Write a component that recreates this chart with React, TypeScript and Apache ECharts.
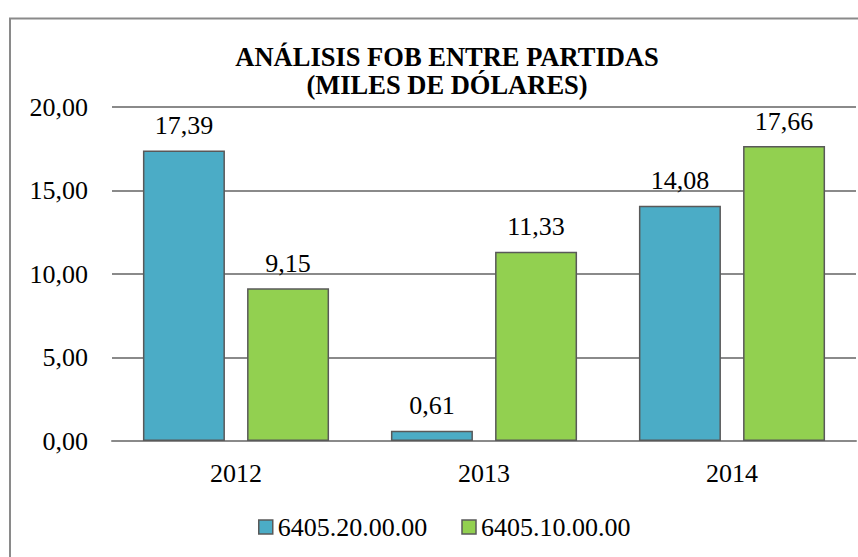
import React, { useEffect, useRef } from "react";
import * as echarts from "echarts";

const categories = ["2012", "2013", "2014"];
const seriesNames = ["6405.20.00.00", "6405.10.00.00"];
const values2010 = [17.39, 0.61, 14.08];
const values1010 = [9.15, 11.33, 17.66];
const yTicks = [0, 5, 10, 15, 20];

const FONT = "Liberation Serif, Times New Roman, serif";
const fmt = (v: number) => v.toFixed(2).replace(".", ",");

export default function App() {
  const ref = useRef<HTMLDivElement>(null);
  useEffect(() => {
    if (!ref.current) return;
    const chart = echarts.init(ref.current, null, { renderer: "svg" });
    chart.setOption({
      animation: false,
      backgroundColor: "#ffffff",
      textStyle: { fontFamily: FONT },
      graphic: [
        {
          type: "rect",
          shape: { x: 10, y: 18.5, width: 900, height: 600 },
          style: { fill: "none", stroke: "#8a8a8a", lineWidth: 2 },
          silent: true,
        },
      ],
      title: {
        text: "ANÁLISIS FOB ENTRE PARTIDAS\n(MILES DE DÓLARES)",
        left: 442,
        top: 38,
        padding: 5,
        textAlign: "center",
        textStyle: {
          fontFamily: FONT,
          fontWeight: "bold",
          fontSize: 26.5,
          lineHeight: 28,
          color: "#000",
        },
      },
      legend: {
        top: 509,
        left: 253,
        itemWidth: 14,
        itemHeight: 14,
        itemGap: 34,
        icon: "rect",
        data: seriesNames.map((n) => ({ name: n })),
        textStyle: { fontFamily: FONT, fontSize: 26, color: "#000" },
        itemStyle: { borderColor: "#595959", borderWidth: 1.5 },
      },
      grid: { left: 112, right: 2, top: 107, bottom: 116 },
      xAxis: {
        type: "category",
        data: categories,
        axisLine: { show: true, lineStyle: { color: "#8a8a8a", width: 2 } },
        axisTick: { show: false },
        axisLabel: { fontFamily: FONT, fontSize: 26, color: "#000", margin: 19 },
      },
      yAxis: {
        type: "value",
        min: yTicks[0],
        max: yTicks[yTicks.length - 1],
        interval: 5,
        axisLine: { show: false },
        axisTick: { show: false },
        splitLine: { lineStyle: { color: "#8a8a8a", width: 2 } },
        axisLabel: {
          fontFamily: FONT,
          fontSize: 26,
          color: "#000",
          margin: 24,
          formatter: (v: number) => fmt(v),
        },
      },
      series: [
        {
          name: seriesNames[0],
          type: "bar",
          data: values2010,
          barWidth: 82,
          barGap: "27%",
          itemStyle: { color: "#4BACC6", borderColor: "#595959", borderWidth: 1.5 },
          label: {
            show: true,
            position: "top",
            distance: 12,
            fontFamily: FONT,
            fontSize: 26,
            color: "#000",
            formatter: (p: any) => fmt(p.value),
          },
        },
        {
          name: seriesNames[1],
          type: "bar",
          data: values1010,
          barWidth: 82,
          barGap: "27%",
          itemStyle: { color: "#92D050", borderColor: "#595959", borderWidth: 1.5 },
          label: {
            show: true,
            position: "top",
            distance: 12,
            fontFamily: FONT,
            fontSize: 26,
            color: "#000",
            formatter: (p: any) => fmt(p.value),
          },
        },
      ],
    });
    return () => chart.dispose();
  }, []);
  return (
    <div
      ref={ref}
      style={{ position: "absolute", left: 0, top: 0, width: 858, height: 557 }}
    />
  );
}
